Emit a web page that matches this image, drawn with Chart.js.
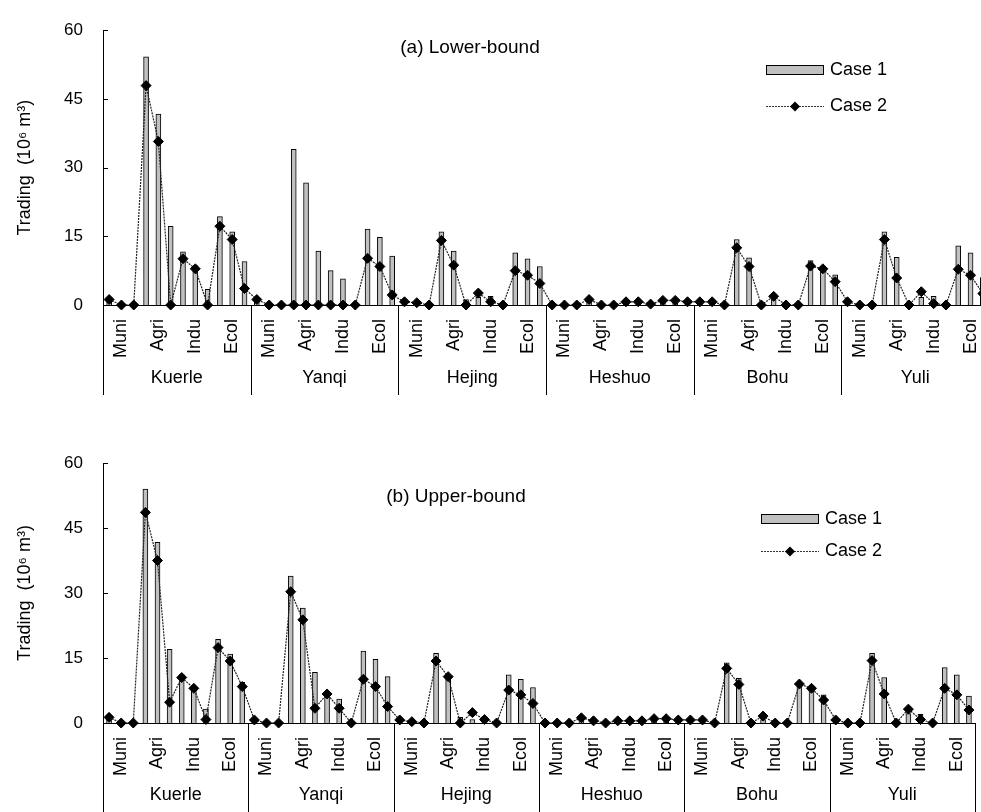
<!DOCTYPE html>
<html>
<head>
<meta charset="utf-8">
<script src="https://cdn.jsdelivr.net/npm/chart.js@4.4.0/dist/chart.umd.min.js"></script>
<style>
  html, body { margin: 0; padding: 0; background: #fff; overflow: hidden; }
  #wrap { position: relative; width: 981px; height: 812px; overflow: hidden; }
  .panel { position: absolute; left: 0; }
</style>
</head>
<body>
<div id="wrap">
  <div class="panel" style="top:0"><canvas id="grafico-lower" width="995" height="420"></canvas></div>
  <div class="panel" style="top:420px"><canvas id="grafico-upper" width="981" height="392"></canvas></div>
</div>
<script>
const regions = ["Kuerle", "Yanqi", "Hejing", "Heshuo", "Bohu", "Yuli"];
const sectors = ["Muni", "Agri", "Indu", "Ecol"];

// (a) Lower-bound, 12 values per region (3 per sector)
const lowerCase1 = [
  1.2, 0, 0, 54.2, 41.7, 17.2, 11.6, 8.6, 3.4, 19.3, 16.0, 9.5,   // Kuerle
  1.2, 0, 0, 34.0, 26.7, 11.8, 7.5, 5.7, 0, 16.6, 14.8, 10.7,     // Yanqi
  0.7, 0.5, 0, 16.0, 11.8, 1.2, 1.7, 1.9, 0, 11.4, 10.1, 8.4,     // Hejing
  0, 0, 0, 1.2, 0, 0, 0.7, 0.7, 0.3, 1.0, 1.0, 0.7,               // Heshuo
  0.7, 0.7, 0, 14.3, 10.3, 0, 1.2, 0, 0, 9.7, 8.5, 6.6,           // Bohu
  0.7, 0, 0, 16.0, 10.4, 0, 1.7, 1.9, 0, 12.9, 11.4, 6.0,         // Yuli
];
const lowerCase2 = [
  1.2, 0, 0, 47.9, 35.7, 0, 10.1, 7.9, 0, 17.2, 14.3, 3.6,
  1.2, 0, 0, 0, 0, 0, 0, 0, 0, 10.2, 8.4, 2.2,
  0.7, 0.5, 0, 14.1, 8.7, 0, 2.6, 0.7, 0, 7.5, 6.5, 4.7,
  0, 0, 0, 1.2, 0, 0, 0.7, 0.7, 0.2, 1.0, 1.0, 0.7,
  0.7, 0.7, 0, 12.5, 8.4, 0, 1.9, 0, 0, 8.5, 7.9, 5.1,
  0.7, 0, 0, 14.3, 5.9, 0, 2.9, 0.3, 0, 7.8, 6.5, 2.5,
];

// (b) Upper-bound
const upperCase1 = [
  1.3, 0, 0, 54.0, 41.7, 17.0, 11.2, 8.2, 3.2, 19.3, 15.9, 9.4,
  0.7, 0, 0, 33.9, 26.5, 11.7, 6.5, 5.5, 0, 16.6, 14.7, 10.7,
  0.7, 0.3, 0, 16.1, 11.2, 1.3, 0.8, 1.5, 0, 11.1, 10.1, 8.2,
  0, 0, 0, 1.2, 0.5, 0, 0.5, 0.5, 0.5, 1.0, 1.0, 0.7,
  0.7, 0.7, 0, 13.9, 10.3, 0, 0.8, 0, 0, 8.8, 8.0, 6.5,
  0.7, 0, 0, 16.1, 10.5, 0, 2.2, 2.0, 0, 12.8, 11.1, 6.2,
];
const upperCase2 = [
  1.3, 0, 0, 48.6, 37.5, 4.8, 10.5, 8.0, 0.8, 17.4, 14.3, 8.4,
  0.7, 0, 0, 30.3, 23.8, 3.4, 6.7, 3.4, 0, 10.1, 8.4, 3.8,
  0.7, 0.3, 0, 14.3, 10.7, 0, 2.4, 0.8, 0, 7.6, 6.5, 4.5,
  0, 0, 0, 1.2, 0.5, 0, 0.5, 0.5, 0.5, 1.0, 1.0, 0.7,
  0.7, 0.7, 0, 12.6, 8.9, 0, 1.6, 0, 0, 9.0, 8.0, 5.3,
  0.7, 0, 0, 14.4, 6.7, 0, 3.2, 0.8, 0, 8.0, 6.5, 3.0,
];

// one label per point, sector name on the middle point of each group of 3
const labels = [];
regions.forEach(() => sectors.forEach(s => labels.push("", s, "")));

const FONT = "'Liberation Sans', Arial, sans-serif";
Chart.defaults.font.family = FONT;
Chart.defaults.color = "#000";

// region separators, region names, inward y ticks, panel title and legend
const panelDecor = {
  id: "panelDecor",
  afterDraw(chart, args, opts) {
    const ctx = chart.ctx;
    const xs = chart.scales.x;
    const ys = chart.scales.y;
    const area = chart.chartArea;
    ctx.save();
    ctx.strokeStyle = "#000";
    ctx.lineWidth = 1;

    ys.ticks.forEach(t => {
      const py = Math.round(ys.getPixelForValue(t.value)) + 0.5;
      ctx.beginPath();
      ctx.moveTo(area.left, py);
      ctx.lineTo(area.left + 5, py);
      ctx.stroke();
    });

    const per = labels.length / regions.length;
    for (let r = 0; r <= regions.length; r++) {
      const px = Math.round(xs.getPixelForValue(r * per - 0.5)) + 0.5;
      ctx.beginPath();
      ctx.moveTo(px, area.bottom);
      ctx.lineTo(px, area.bottom + opts.sepLength);
      ctx.stroke();
    }
    ctx.font = "18px " + FONT;
    ctx.fillStyle = "#000";
    ctx.textAlign = "center";
    ctx.textBaseline = "middle";
    regions.forEach((name, r) => {
      ctx.fillText(name, xs.getPixelForValue(r * per + (per - 1) / 2), area.bottom + opts.nameOffset);
    });

    ctx.font = "19px " + FONT;
    ctx.fillText(opts.title, opts.titleX, opts.titleY);

    // legend
    const lg = opts.legend;
    ctx.textAlign = "left";
    ctx.font = "18px " + FONT;
    ctx.fillStyle = "#c0c0c0";
    ctx.fillRect(lg.x, lg.y, 58, 10);
    ctx.strokeRect(lg.x + 0.5, lg.y + 0.5, 57, 9);
    ctx.fillStyle = "#000";
    ctx.fillText("Case 1", lg.x + 64, lg.y + 5);
    const ly = lg.y + lg.gap + 0.5;
    ctx.strokeStyle = "#333";
    ctx.setLineDash([2, 1]);
    ctx.beginPath();
    ctx.moveTo(lg.x, ly);
    ctx.lineTo(lg.x + 58, ly);
    ctx.stroke();
    ctx.setLineDash([]);
    const cx = lg.x + 29;
    ctx.beginPath();
    ctx.moveTo(cx, ly - 5);
    ctx.lineTo(cx + 5, ly);
    ctx.lineTo(cx, ly + 5);
    ctx.lineTo(cx - 5, ly);
    ctx.closePath();
    ctx.fill();
    ctx.fillText("Case 2", lg.x + 64, ly);
    ctx.restore();
  },
};

function makeConfig(case1, case2, panel) {
  return {
    type: "bar",
    data: {
      labels: labels,
      datasets: [
        {
          type: "line",
          label: "Case 2",
          data: case2,
          borderColor: "#222",
          borderWidth: 1.2,
          borderDash: [2, 1],
          pointStyle: "rectRot",
          pointRadius: 5,
          pointBackgroundColor: "#000",
          pointBorderColor: "#000",
          pointBorderWidth: 1,
          tension: 0,
          clip: false,
          order: 1,
        },
        {
          type: "bar",
          label: "Case 1",
          data: case1,
          backgroundColor: "#c0c0c0",
          borderColor: "#000",
          borderWidth: 1,
          barThickness: 5,
          order: 2,
        },
      ],
    },
    options: {
      responsive: false,
      animation: false,
      devicePixelRatio: 1,
      layout: { padding: { top: panel.top, right: panel.right, left: 0, bottom: 0 } },
      scales: {
        x: {
          grid: { display: false, drawTicks: false },
          border: { display: true, color: "#000", width: 1 },
          ticks: { autoSkip: false, minRotation: 90, maxRotation: 90, padding: 14, font: { size: 18 } },
          afterFit(scale) {
            scale.height = panel.axisHeight;
            scale.paddingLeft = 0;
            scale.paddingRight = 0;
          },
        },
        y: {
          min: 0,
          max: 60,
          ticks: { stepSize: 15, padding: 20, font: { size: 17 } },
          grid: { display: false, drawTicks: false },
          border: { display: true, color: "#000", width: 1 },
          title: { display: true, text: "Trading  (10⁶ m³)", font: { size: 18 }, padding: { top: 14, bottom: 0 } },
          afterFit(scale) { scale.width = 103; },
        },
      },
      plugins: {
        legend: { display: false },
        tooltip: { enabled: false },
        panelDecor: panel.decor,
      },
    },
    plugins: [panelDecor],
  };
}

const graficoLower = new Chart(document.getElementById("grafico-lower").getContext("2d"),
  makeConfig(lowerCase1, lowerCase2, {
    top: 18, right: 4, axisHeight: 115,
    decor: { title: "(a) Lower-bound", titleX: 470, titleY: 48, sepLength: 90, nameOffset: 73,
             legend: { x: 766, y: 65, gap: 41 } },
  }));

const graficoUpper = new Chart(document.getElementById("grafico-upper").getContext("2d"),
  makeConfig(upperCase1, upperCase2, {
    top: 43, right: 1, axisHeight: 89,
    decor: { title: "(b) Upper-bound", titleX: 456, titleY: 77, sepLength: 95, nameOffset: 72,
             legend: { x: 761, y: 94, gap: 37 } },
  }));
</script>
</body>
</html>
